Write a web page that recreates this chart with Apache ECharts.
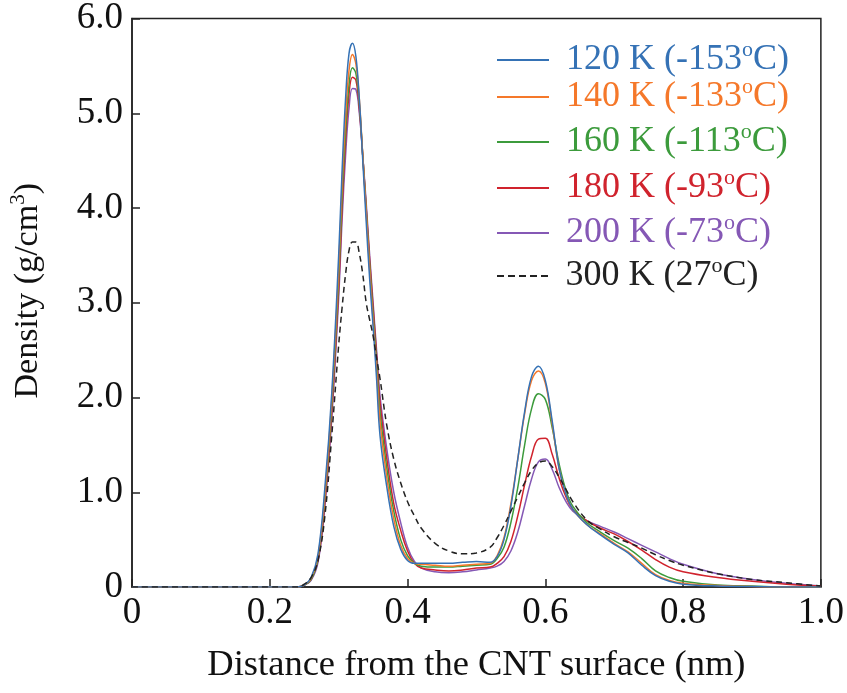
<!DOCTYPE html>
<html>
<head>
<meta charset="utf-8">
<script src="https://cdn.jsdelivr.net/npm/echarts@6/dist/echarts.min.js"></script>
<style>
html,body{margin:0;padding:0;background:#fff;}
#chart{width:847px;height:693px;}
</style>
</head>
<body>
<div id="chart"></div>
<script>
// Distance from CNT surface (nm)
var xs = [0, 0.1, 0.2, 0.23, 0.24, 0.25, 0.26, 0.27, 0.28, 0.29, 0.30, 0.305, 0.31, 0.315, 0.32, 0.325, 0.33, 0.335, 0.34, 0.345, 0.35, 0.355, 0.36, 0.37, 0.38, 0.39, 0.40, 0.41, 0.42, 0.44, 0.46, 0.48, 0.50, 0.52, 0.53, 0.54, 0.55, 0.56, 0.57, 0.58, 0.59, 0.60, 0.61, 0.62, 0.63, 0.64, 0.66, 0.68, 0.70, 0.72, 0.74, 0.76, 0.78, 0.80, 0.85, 0.90, 0.95, 1.0];

// Density (g/cm3)
var d120 = [0,0,0,0,0, 0.02,0.1,0.35,1.05,2.05,3.5,4.4,5.15,5.63,5.74,5.6,5.15,4.5,3.85,3.25,2.75,2.2,1.6,1.05,0.64,0.40,0.28,0.25,0.25,0.25,0.25,0.26,0.27,0.26, 0.32,0.5,0.85,1.35,1.85,2.22,2.33,2.18,1.75,1.25,0.98,0.82,0.66,0.55,0.45,0.36,0.23,0.12,0.06,0.03,0.01,0.005,0,0];
var d140 = [0,0,0,0,0, 0.02,0.09,0.32,0.98,1.98,3.35,4.25,4.95,5.45,5.62,5.52,5.15,4.55,3.95,3.35,2.82,2.3,1.75,1.15,0.72,0.44,0.3,0.25,0.24,0.23,0.22,0.23,0.24,0.25, 0.33,0.52,0.88,1.35,1.83,2.18,2.28,2.15,1.72,1.25,0.98,0.82,0.66,0.56,0.46,0.37,0.25,0.13,0.07,0.04,0.015,0.005,0,0];
var d160 = [0,0,0,0,0, 0.02,0.08,0.3,0.95,1.92,3.25,4.12,4.8,5.3,5.48,5.42,5.1,4.55,3.98,3.4,2.88,2.38,1.85,1.25,0.8,0.5,0.33,0.25,0.22,0.21,0.21,0.22,0.23,0.24, 0.3,0.42,0.68,1.05,1.5,1.88,2.04,1.98,1.68,1.3,1.02,0.85,0.68,0.58,0.49,0.41,0.3,0.17,0.1,0.06,0.02,0.01,0,0];
var d180 = [0,0,0,0,0, 0.02,0.08,0.28,0.9,1.85,3.15,4.0,4.7,5.2,5.38,5.35,5.05,4.55,4.0,3.45,2.95,2.45,1.95,1.35,0.88,0.6,0.38,0.25,0.2,0.18,0.17,0.18,0.2,0.21, 0.25,0.32,0.48,0.75,1.08,1.38,1.56,1.57,1.4,1.15,0.95,0.82,0.7,0.62,0.56,0.48,0.39,0.29,0.21,0.16,0.1,0.06,0.03,0.01];
var d200 = [0,0,0,0,0, 0.02,0.07,0.26,0.85,1.78,3.05,3.88,4.55,5.05,5.26,5.25,5.0,4.55,4.05,3.5,3.0,2.5,2.02,1.45,1.0,0.68,0.42,0.27,0.2,0.16,0.15,0.16,0.18,0.2, 0.22,0.27,0.38,0.58,0.86,1.14,1.32,1.35,1.24,1.05,0.9,0.8,0.7,0.64,0.58,0.51,0.44,0.37,0.3,0.24,0.14,0.08,0.04,0.01];
var d300 = [0,0,0,0,0, 0.03,0.1,0.28,0.75,1.6,2.55,2.95,3.3,3.55,3.64,3.64,3.52,3.3,3.0,2.82,2.65,2.42,2.2,1.7,1.35,1.1,0.9,0.75,0.62,0.46,0.38,0.35,0.36,0.42, 0.52,0.65,0.8,0.95,1.1,1.23,1.31,1.33,1.27,1.16,1.03,0.9,0.71,0.61,0.53,0.47,0.41,0.34,0.28,0.23,0.14,0.08,0.045,0.01];

var seriesNames = ['120 K (-153oC)', '140 K (-133oC)', '160 K (-113oC)', '180 K (-93oC)', '200 K (-73oC)', '300 K (27oC)'];
var seriesData = [d120, d140, d160, d180, d200, d300];
var colors = ['#3572b5', '#f5782a', '#3c9b3c', '#d0232d', '#8558b5', '#222222'];
var legendCenters = [60, 97, 142, 188, 233, 276];

var xTicks = ['0', '0.2', '0.4', '0.6', '0.8', '1.0'];
var yTicks = ['0', '1.0', '2.0', '3.0', '4.0', '5.0', '6.0'];

var FONT = '"Liberation Serif", "Times New Roman", serif';
var SOLID_ICON = 'path://M0,0H52V2H0Z';
var DASH_ICON = 'path://M0,0h7v2h-7z M11,0h7v2h-7z M22,0h7v2h-7z M33,0h7v2h-7z M44,0h7v2h-7z';

var series = seriesNames.map(function (name, k) {
  return {
    name: name,
    type: 'line',
    data: xs.map(function (x, i) { return [x, seriesData[k][i]]; }),
    smooth: 0.4,
    symbol: 'none',
    lineStyle: { color: colors[k], width: 1.5, type: k === 5 ? [6, 4] : 'solid' },
    itemStyle: { color: colors[k] },
    z: k === 5 ? 10 : 5 - k
  };
});

var LH = 42;
var FS = 36;
var legends = seriesNames.map(function (name, k) {
  var rich = {};
  rich['a' + k] = { color: colors[k], fontSize: FS, fontFamily: FONT, lineHeight: LH, padding: [0, 0, 0, 12] };
  rich['b' + k] = { color: colors[k], fontSize: FS, fontFamily: FONT, lineHeight: LH };
  rich['s' + k] = { color: colors[k], fontSize: 22, fontFamily: FONT, lineHeight: LH, verticalAlign: 'top' };
  return {
    data: [name],
    left: 497,
    top: legendCenters[k] - LH / 2,
    padding: 0,
    itemWidth: 52,
    itemHeight: 2,
    icon: k === 5 ? DASH_ICON : SOLID_ICON,
    itemStyle: { color: colors[k] },
    selectedMode: false,
    formatter: function (n) {
      var m = n.split('oC');
      return '{a' + k + '|' + m[0] + '}{s' + k + '|o}{b' + k + '|C' + m[1] + '}';
    },
    textStyle: { rich: rich, color: colors[k], fontSize: FS, fontFamily: FONT }
  };
});

var chart = echarts.init(document.getElementById('chart'), null, { renderer: 'canvas' });
chart.setOption({
  animation: false,
  backgroundColor: '#ffffff',
  textStyle: { fontFamily: FONT },
  grid: { left: 125, right: 23, top: 13, bottom: 106, show: true, borderColor: '#222', borderWidth: 1.5, containLabel: false },
  legend: legends,
  xAxis: {
    type: 'value', min: 0, max: 1, interval: 0.2,
    name: 'Distance from the CNT surface (nm)',
    nameLocation: 'middle', nameGap: 60,
    nameTextStyle: { fontSize: 36.5, fontFamily: FONT, color: '#111' },
    axisLine: { lineStyle: { color: '#222', width: 1.5 } },
    axisTick: { inside: true, length: 8, lineStyle: { color: '#222', width: 1.5 } },
    axisLabel: { fontSize: 37, fontFamily: FONT, color: '#111', margin: 8,
      formatter: function (v) { return xTicks[Math.round(v / 0.2)]; } },
    splitLine: { show: false }
  },
  yAxis: {
    type: 'value', min: 0, max: 6, interval: 1,
    name: '{a|Density (g/cm}{s|3}{a|)}',
    nameLocation: 'middle', nameGap: 84, nameRotate: 90,
    nameTextStyle: { fontSize: 34, fontFamily: FONT, color: '#111', padding: [0, 0, 0, 24],
      rich: { a: { fontSize: 34, fontFamily: FONT, color: '#111', lineHeight: 40 },
              s: { fontSize: 21, fontFamily: FONT, color: '#111', lineHeight: 40, verticalAlign: 'top' } } },
    axisLine: { lineStyle: { color: '#222', width: 1.5 } },
    axisTick: { inside: true, length: 8, lineStyle: { color: '#222', width: 1.5 } },
    axisLabel: { fontSize: 37, fontFamily: FONT, color: '#111', margin: 9,
      formatter: function (v) { return yTicks[Math.round(v)]; } },
    splitLine: { show: false }
  },
  series: series
});
</script>
</body>
</html>
